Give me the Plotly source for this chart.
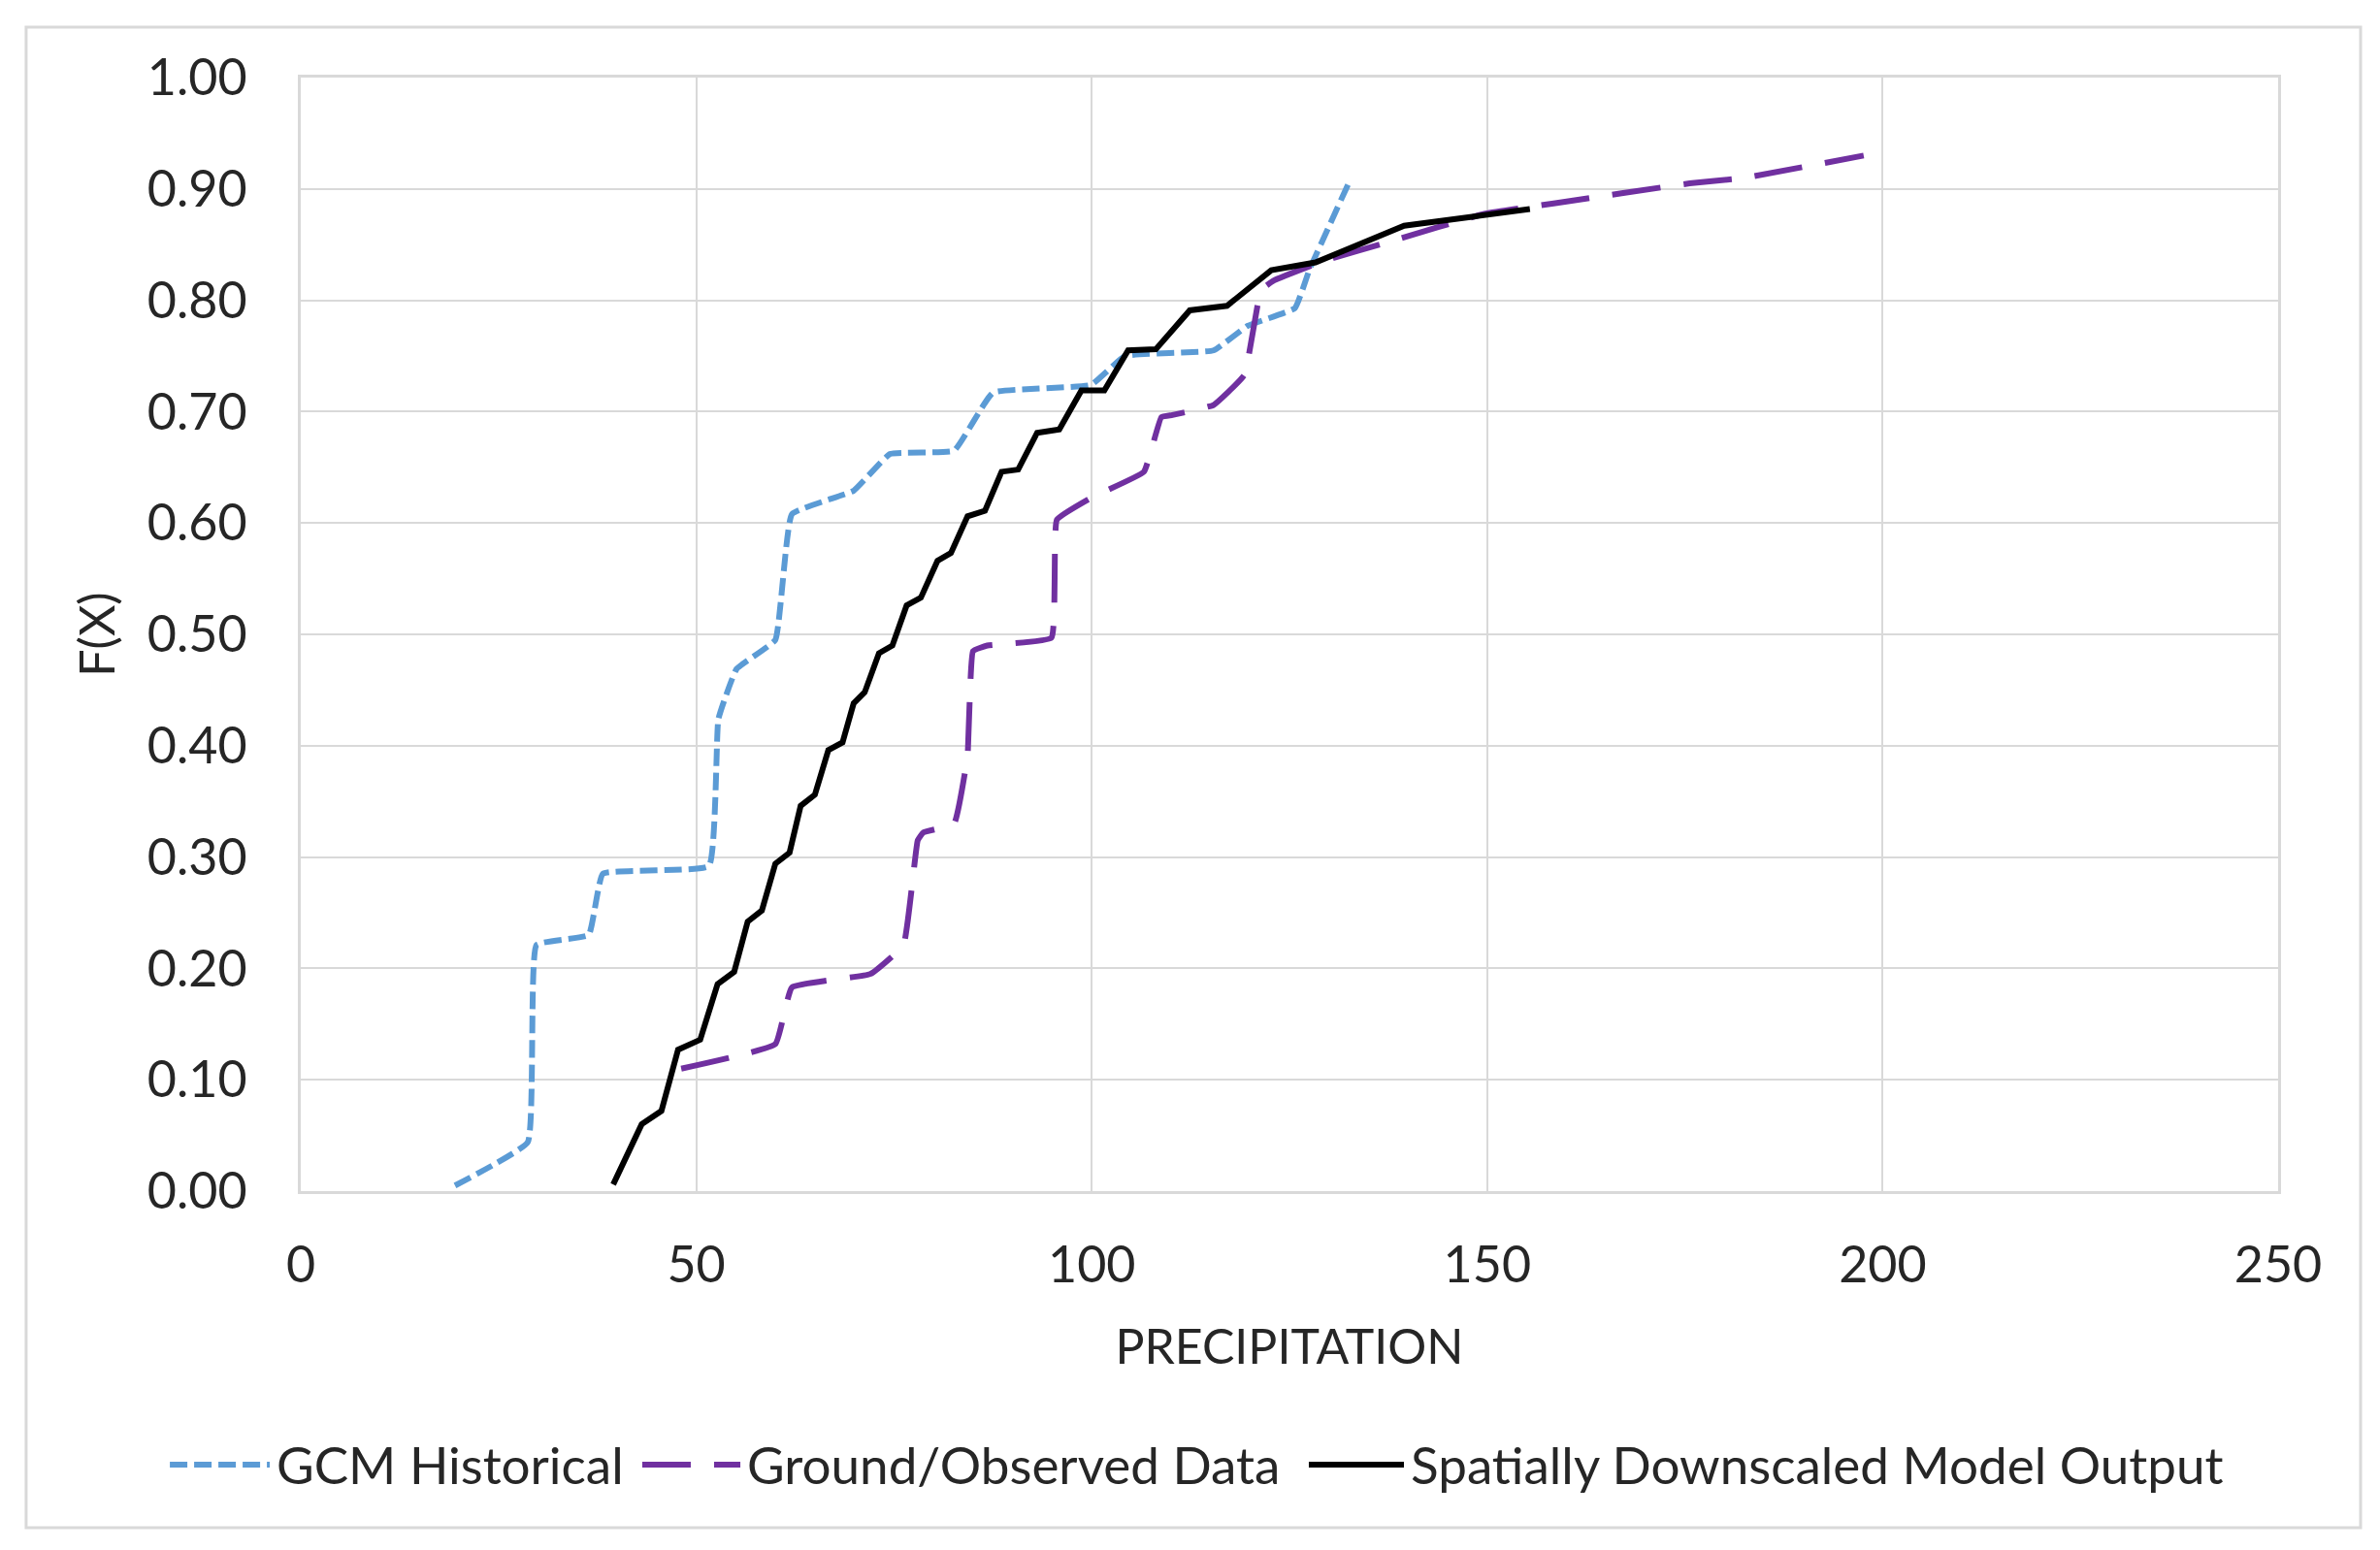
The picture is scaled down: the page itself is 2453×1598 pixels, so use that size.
import plotly.graph_objects as go

# GCM Historical (CDF)
gcm_x = [19.5, 28.7, 29.8, 36.4, 38.2, 51.6, 52.8, 55.1, 60.0, 62.1, 69.9, 74.5, 82.6, 87.5,
         99.9, 104.2, 115.4, 119.7, 125.7, 127.5, 132.6]
gcm_y = [0.005, 0.044, 0.221, 0.230, 0.285, 0.292, 0.424, 0.469, 0.495, 0.608, 0.629, 0.662, 0.665, 0.717,
         0.724, 0.750, 0.755, 0.777, 0.793, 0.827, 0.907]

# Ground / observed data
obs_x = [48.1, 60.0, 62.1, 72.0, 76.2, 78.0, 78.7, 82.6, 84.3, 85.0, 86.8, 94.9, 95.6, 100.0,
         106.6, 108.8, 110.2, 115.4, 119.3, 121.4, 123.1, 129.2, 137.8, 149.8, 158.4, 175.6, 182.5, 197.6]
obs_y = [0.110, 0.132, 0.183, 0.195, 0.221, 0.315, 0.322, 0.330, 0.391, 0.485, 0.490, 0.497, 0.603, 0.623,
         0.646, 0.695, 0.697, 0.706, 0.733, 0.809, 0.818, 0.835, 0.853, 0.878, 0.887, 0.905, 0.910, 0.930]

# Spatially downscaled model output
sd_x = [39.5, 43.1, 45.6, 47.7, 50.5, 52.7, 54.8, 56.5, 58.3, 60.0, 61.8, 63.2, 65.0, 66.7, 68.5,
        69.9, 71.3, 73.1, 74.8, 76.6, 78.4, 80.5, 82.2, 84.3, 86.5, 88.6, 90.7, 93.1, 95.9, 98.7,
        101.6, 104.6, 108.1, 112.4, 117.1, 122.7, 128.3, 139.5, 148.1, 155.4]
sd_y = [0.006, 0.060, 0.072, 0.127, 0.136, 0.186, 0.197, 0.242, 0.252, 0.294, 0.304, 0.346, 0.356, 0.396, 0.403,
        0.438, 0.448, 0.483, 0.490, 0.526, 0.533, 0.566, 0.573, 0.606, 0.611, 0.646, 0.648, 0.681, 0.684, 0.719,
        0.719, 0.755, 0.756, 0.791, 0.795, 0.827, 0.834, 0.867, 0.875, 0.882]

x_ticks = [0, 50, 100, 150, 200, 250]
y_ticks = [0.0, 0.1, 0.2, 0.3, 0.4, 0.5, 0.6, 0.7, 0.8, 0.9, 1.0]

series_names = ['GCM Historical', 'Ground/Observed Data', 'Spatially Downscaled Model Output']
series_colors = ['#5B9BD5', '#7030A0', '#000000']
series_dash = ['18px,7px', '50px,24px', 'solid']

FAMILY = 'Lato, "Open Sans", sans-serif'
TICK_FONT = dict(family=FAMILY, size=52, color='#262626')
TITLE_FONT = dict(family=FAMILY, size=50, color='#262626')
LEG_FONT = dict(family=FAMILY, size=53, color='#262626')
GRID = '#D9D9D9'

fig = go.Figure()
for xs, ys, name, col, dash in zip([gcm_x, obs_x, sd_x], [gcm_y, obs_y, sd_y],
                                   series_names, series_colors, series_dash):
    line = dict(color=col, width=6, dash=dash)
    if dash != 'solid':
        line.update(shape='spline', smoothing=0.3)
    fig.add_trace(go.Scatter(x=xs, y=ys, mode='lines', name=name, line=line, showlegend=False))

# legend drawn by hand so the line samples sit right before the text, as in Excel
shapes = [dict(type='rect', xref='paper', yref='paper', x0=-0.1389, x1=1.0417, y0=-0.3023, y1=1.0453,
               line=dict(color=GRID, width=3), fillcolor='rgba(0,0,0,0)', layer='below')]
annotations = []
leg_y = -0.2456
sample_x = [(-0.0662, -0.0157), (0.1727, 0.2223), (0.5098, 0.5579)]
for (x0, x1), name, col, dash in zip(sample_x, series_names, series_colors, series_dash):
    shapes.append(dict(type='line', xref='paper', yref='paper', x0=x0, x1=x1, y0=leg_y, y1=leg_y,
                       line=dict(color=col, width=6, dash=dash)))
    annotations.append(dict(text=name, xref='paper', yref='paper', x=x1 + 0.0025, y=leg_y,
                            xanchor='left', yanchor='middle', showarrow=False, font=LEG_FONT))

fig.update_layout(
    width=2453, height=1598,
    paper_bgcolor='white', plot_bgcolor='white',
    font=TICK_FONT,
    margin=dict(l=302, r=113, t=72, b=378),
    showlegend=False,
    xaxis=dict(range=[0, 250], tickvals=x_ticks, showgrid=True, gridcolor=GRID, gridwidth=2,
               zeroline=False, showline=True, linecolor=GRID, linewidth=3, mirror=True,
               ticks='', ticklabelstandoff=29, tickfont=TICK_FONT,
               title=dict(text='PRECIPITATION', font=TITLE_FONT, standoff=39)),
    yaxis=dict(range=[0, 1], tickvals=y_ticks, tickformat='.2f', showgrid=True, gridcolor=GRID, gridwidth=2,
               zeroline=False, showline=True, linecolor=GRID, linewidth=3, mirror=True,
               ticks='', ticklabelstandoff=42, tickfont=TICK_FONT,
               title=dict(text='F(X)', font=TITLE_FONT, standoff=18)),
    shapes=shapes,
    annotations=annotations,
)

fig.write_html("out.html")
